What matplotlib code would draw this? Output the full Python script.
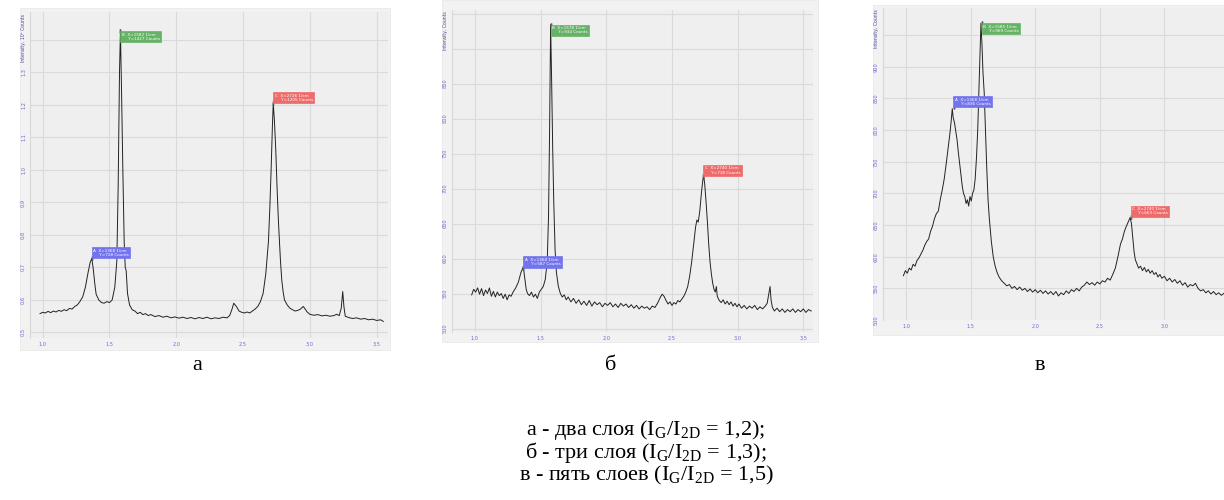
import matplotlib
matplotlib.use("Agg")
from matplotlib import pyplot as plt
from matplotlib.patches import Rectangle

# ---- data (x in 10^3 1/cm) ----
# panel a: intensity in 10^3 counts
xa = [0.98, 1.00, 1.02, 1.04, 1.06, 1.08, 1.10, 1.12, 1.14, 1.16, 1.18, 1.20, 1.22, 1.24,
      1.26, 1.28, 1.30, 1.32, 1.34, 1.355, 1.368, 1.38, 1.39, 1.40, 1.42, 1.44, 1.46, 1.48,
      1.50, 1.52, 1.54, 1.555, 1.565, 1.575, 1.582, 1.59, 1.60, 1.61, 1.618, 1.625, 1.635,
      1.65, 1.67, 1.69, 1.71, 1.73, 1.75, 1.77, 1.79, 1.81, 1.84, 1.87, 1.90, 1.93, 1.96,
      1.99, 2.02, 2.05, 2.08, 2.11, 2.14, 2.17, 2.20, 2.23, 2.26, 2.29, 2.32, 2.35, 2.38,
      2.40, 2.42, 2.43, 2.45, 2.47, 2.49, 2.51, 2.53, 2.55, 2.57, 2.59, 2.61, 2.63, 2.65,
      2.67, 2.69, 2.70, 2.71, 2.72, 2.726, 2.735, 2.745, 2.755, 2.765, 2.78, 2.79, 2.80,
      2.81, 2.83, 2.85, 2.87, 2.89, 2.91, 2.93, 2.95, 2.96, 2.98, 3.00, 3.03, 3.06, 3.09,
      3.12, 3.15, 3.18, 3.20, 3.22, 3.235, 3.246, 3.255, 3.265, 3.29, 3.32, 3.35, 3.38,
      3.41, 3.44, 3.47, 3.50, 3.53, 3.55]
ya = [0.558, 0.562, 0.560, 0.565, 0.561, 0.566, 0.563, 0.568, 0.565, 0.570, 0.567, 0.574,
      0.572, 0.580, 0.585, 0.596, 0.610, 0.640, 0.685, 0.715, 0.728, 0.690, 0.650, 0.618,
      0.600, 0.592, 0.590, 0.595, 0.592, 0.600, 0.640, 0.720, 0.950, 1.300, 1.427, 1.250,
      1.000, 0.780, 0.700, 0.690, 0.620, 0.585, 0.570, 0.566, 0.558, 0.562, 0.555, 0.558,
      0.552, 0.555, 0.549, 0.552, 0.547, 0.550, 0.545, 0.548, 0.544, 0.547, 0.543, 0.546,
      0.542, 0.546, 0.543, 0.547, 0.542, 0.545, 0.543, 0.547, 0.545, 0.552, 0.575, 0.590,
      0.580, 0.566, 0.562, 0.560, 0.563, 0.560, 0.566, 0.572, 0.580, 0.595, 0.620, 0.680,
      0.780, 0.880, 1.000, 1.140, 1.205, 1.150, 1.060, 0.940, 0.840, 0.720, 0.660, 0.625,
      0.600, 0.585, 0.575, 0.570, 0.566, 0.568, 0.572, 0.580, 0.575, 0.563, 0.556, 0.553,
      0.555, 0.551, 0.553, 0.550, 0.552, 0.556, 0.552, 0.575, 0.626, 0.580, 0.550, 0.546,
      0.543, 0.545, 0.541, 0.543, 0.539, 0.541, 0.537, 0.539, 0.534]

# panel b: intensity in counts
xb = [0.975, 0.99, 1.005, 1.02, 1.035, 1.05, 1.065, 1.08, 1.095, 1.11, 1.125, 1.14, 1.155,
      1.17, 1.185, 1.20, 1.215, 1.23, 1.245, 1.26, 1.275, 1.29, 1.31, 1.33, 1.35, 1.368,
      1.38, 1.39, 1.40, 1.415, 1.43, 1.445, 1.46, 1.475, 1.49, 1.505, 1.52, 1.535, 1.55,
      1.56, 1.568, 1.576, 1.584, 1.592, 1.60, 1.61, 1.62, 1.635, 1.65, 1.665, 1.68, 1.695,
      1.71, 1.73, 1.75, 1.77, 1.79, 1.81, 1.83, 1.85, 1.87, 1.89, 1.91, 1.93, 1.95, 1.97,
      1.99, 2.01, 2.03, 2.05, 2.07, 2.09, 2.11, 2.13, 2.15, 2.17, 2.19, 2.21, 2.23, 2.25,
      2.27, 2.29, 2.31, 2.33, 2.35, 2.37, 2.39, 2.41, 2.425, 2.44, 2.455, 2.47, 2.485,
      2.50, 2.515, 2.53, 2.545, 2.56, 2.575, 2.59, 2.605, 2.62, 2.635, 2.65, 2.665, 2.68,
      2.69, 2.70, 2.712, 2.725, 2.735, 2.742, 2.75, 2.76, 2.77, 2.78, 2.79, 2.80, 2.81,
      2.82, 2.83, 2.838, 2.845, 2.86, 2.875, 2.89, 2.905, 2.92, 2.935, 2.95, 2.965, 2.98,
      2.995, 3.01, 3.03, 3.05, 3.07, 3.09, 3.11, 3.13, 3.15, 3.17, 3.19, 3.21, 3.225, 3.24,
      3.247, 3.255, 3.265, 3.28, 3.30, 3.32, 3.34, 3.36, 3.38, 3.40, 3.42, 3.44, 3.46, 3.48,
      3.50, 3.52, 3.54, 3.56]
yb = [548, 556, 552, 558, 549, 557, 547, 555, 550, 558, 546, 553, 545, 552, 547, 550, 543,
      549, 541, 548, 546, 552, 558, 566, 580, 588, 570, 556, 550, 547, 552, 545, 549, 543,
      552, 556, 560, 570, 595, 660, 780, 934, 850, 755, 680, 612, 580, 560, 550, 545, 548,
      541, 545, 538, 543, 536, 541, 534, 539, 533, 540, 532, 538, 534, 537, 531, 536, 533,
      537, 531, 535, 530, 536, 532, 535, 530, 534, 529, 533, 528, 532, 529, 531, 527, 532,
      530, 536, 544, 549, 546, 540, 535, 538, 533, 537, 535, 540, 538, 542, 546, 552, 560,
      575, 595, 620, 645, 655, 652, 668, 695, 712, 718, 705, 680, 652, 620, 595, 578, 565,
      556, 552, 560, 546, 540, 537, 541, 535, 539, 534, 538, 532, 536, 531, 535, 529, 533,
      528, 532, 529, 533, 527, 531, 528, 532, 536, 552, 560, 540, 530, 525, 529, 524, 528,
      523, 527, 524, 528, 523, 527, 524, 528, 523, 527, 525]

# panel c: intensity in counts
xc = [0.98, 0.995, 1.01, 1.025, 1.04, 1.055, 1.07, 1.085, 1.10, 1.115, 1.13, 1.145, 1.16,
      1.175, 1.19, 1.205, 1.22, 1.235, 1.25, 1.265, 1.28, 1.295, 1.31, 1.325, 1.34, 1.35,
      1.358, 1.365, 1.375, 1.385, 1.395, 1.405, 1.415, 1.425, 1.435, 1.445, 1.455, 1.465,
      1.475, 1.485, 1.495, 1.505, 1.515, 1.525, 1.535, 1.545, 1.555, 1.565, 1.575, 1.58,
      1.588, 1.596, 1.605, 1.615, 1.625, 1.635, 1.645, 1.66, 1.675, 1.69, 1.705, 1.72, 1.74,
      1.76, 1.78, 1.80, 1.82, 1.84, 1.86, 1.88, 1.90, 1.92, 1.94, 1.96, 1.98, 2.00, 2.02,
      2.04, 2.06, 2.08, 2.10, 2.12, 2.14, 2.16, 2.18, 2.20, 2.22, 2.24, 2.26, 2.28, 2.30,
      2.32, 2.34, 2.36, 2.38, 2.40, 2.42, 2.44, 2.46, 2.48, 2.50, 2.52, 2.54, 2.56, 2.58,
      2.60, 2.62, 2.64, 2.66, 2.675, 2.69, 2.705, 2.72, 2.735, 2.745, 2.755, 2.765, 2.775,
      2.785, 2.80, 2.815, 2.83, 2.845, 2.86, 2.875, 2.89, 2.905, 2.92, 2.935, 2.95, 2.965,
      2.98, 3.00, 3.02, 3.04, 3.06, 3.08, 3.10, 3.12, 3.14, 3.16, 3.18, 3.20, 3.22, 3.24,
      3.26, 3.28, 3.30, 3.32, 3.34, 3.36, 3.38, 3.40, 3.42, 3.44, 3.46]
yc = [570, 578, 574, 582, 579, 588, 585, 594, 598, 604, 610, 618, 624, 628, 640, 648, 660,
      668, 672, 690, 705, 722, 745, 770, 795, 815, 834, 820, 812, 798, 785, 765, 748, 730,
      712, 700, 695, 684, 690, 680, 695, 688, 700, 705, 722, 755, 800, 870, 940, 969, 935,
      890, 860, 800, 740, 690, 660, 625, 600, 585, 575, 568, 562, 558, 554, 556, 550, 553,
      548, 552, 547, 550, 545, 549, 544, 548, 543, 547, 542, 546, 541, 545, 540, 545, 538,
      543, 540, 546, 542, 548, 545, 550, 546, 552, 555, 560, 556, 559, 555, 560, 557, 562,
      560, 566, 563, 572, 582, 600, 620, 628, 640, 648, 655, 662, 652, 630, 608, 595, 590,
      582, 585, 578, 583, 576, 580, 574, 578, 572, 575, 568, 572, 566, 569, 562, 566, 560,
      564, 558, 562, 555, 559, 552, 556, 554, 558, 550, 546, 548, 543, 546, 541, 545, 540,
      543, 539, 542]

ticks_x = [1.0, 1.5, 2.0, 2.5, 3.0, 3.5]
ticks_xc = [1.0, 1.5, 2.0, 2.5, 3.0]
ticks_ya = [0.5, 0.6, 0.7, 0.8, 0.9, 1.0, 1.1, 1.2, 1.3, 1.4]
ticks_yb = [500, 550, 600, 650, 700, 750, 800, 850, 900, 950]
ticks_yc = [500, 550, 600, 650, 700, 750, 800, 850, 900, 950]

# markers: (letter, x cm-1, y counts, colour)
marks_a = [("A", 1368, 728, "#7373ee"), ("B", 1582, 1427, "#66b266"), ("C", 2726, 1205, "#ee6b6b")]
marks_b = [("A", 1368, 587, "#7373ee"), ("B", 1578, 934, "#66b266"), ("C", 2740, 718, "#ee6b6b")]
marks_c = [("A", 1368, 836, "#7373ee"), ("B", 1585, 969, "#66b266"), ("C", 2740, 663, "#ee6b6b")]

W, H = 1224, 500
fig = plt.figure(figsize=(W / 100, H / 100), dpi=100)
fig.patch.set_facecolor("white")

TICK_COL = "#6a6ad0"


def px_rect(l, t, r, b):
    return [l / W, 1 - b / H, (r - l) / W, (b - t) / H]


def panel(box, area, x, y, xlim, ylim, xt, yt, ylabels, ytitle, marks, scale):
    # grey screenshot background
    l, t, r, b = box
    fig.patches.append(Rectangle((l / W, 1 - b / H), (r - l) / W, (b - t) / H,
                                 transform=fig.transFigure, facecolor="#f2f2f2",
                                 edgecolor="#e6e6e6", lw=0.5, zorder=-5))
    ax = fig.add_axes(px_rect(*area))
    ax.set_zorder(2)
    ax.set_facecolor("#efefef")
    ax.plot(x, y, color="#222222", lw=0.7)
    ax.set_xlim(*xlim)
    ax.set_ylim(*ylim)
    ax.set_xticks(xt)
    ax.set_xticklabels([f"{v:.1f}".replace(".", ",") for v in xt])
    ax.set_yticks(yt)
    ax.set_yticklabels(ylabels, rotation=90, va="center")
    ax.tick_params(length=0, labelsize=3.6, labelcolor=TICK_COL, pad=3)
    ax.grid(True, color="#dadada", lw=0.8)
    ax.set_axisbelow(True)
    for s in ax.spines.values():
        s.set_visible(False)
    ax.spines["left"].set_visible(True)
    ax.spines["left"].set_color("#d8d8d8")
    ax.text(-0.012, 0.995, ytitle, transform=ax.transAxes, rotation=90,
            ha="right", va="top", fontsize=3.3, color="#4a4a9a")
    for letter, mx, my, col in marks:
        px, py = mx / 1000, my / scale
        ax.plot([px, px], [py, py], marker="|", ms=3, color="#555555")
        va = "top" if letter == "B" else "bottom"
        dy = -1 if letter == "B" else 1
        ax.annotate(f"{letter}  X={mx} 1/cm\n     Y={my} Counts", (px, py),
                    xytext=(1, dy), textcoords="offset points", ha="left", va=va,
                    fontsize=3.0, color="white", linespacing=1.1,
                    bbox=dict(boxstyle="square,pad=0.35", fc=col, ec=col, lw=0.5))
    return ax


def fmt_comma(vals):
    return [f"{v:.1f}".replace(".", ",") for v in vals]


# top tick labels sit under the axis title, so they are left blank
labels_a = fmt_comma(ticks_ya)[:-1] + [""]
labels_b = [str(v) for v in ticks_yb][:-2] + ["", ""]
labels_c = [str(v) for v in ticks_yc][:-1] + [""]

panel((20, 8, 390, 350), (30, 12, 388, 338), xa, ya, (0.905, 3.585), (0.483, 1.486),
      ticks_x, ticks_ya, labels_a, "Intensity, 10³ Counts", marks_a, 1000)
panel((442, 0, 818, 342), (452, 10, 813, 332), xb, yb, (0.825, 3.574), (495, 955),
      ticks_x, ticks_yb, labels_b, "Intensity, Counts", marks_b, 1)
panel((873, 5, 1224, 335), (883, 8, 1224, 320), xc, yc, (0.822, 3.461), (513, 993),
      ticks_xc, ticks_yc, labels_c, "Intensity, Counts", marks_c, 1)

# captions
plt.rcParams["mathtext.fontset"] = "custom"
plt.rcParams["mathtext.rm"] = "Liberation Serif"
serif = "Liberation Serif"
for cx, letter in [(197, "а"), (611, "б"), (1040, "в")]:
    fig.text(cx / W, 1 - 366 / H, letter, ha="center", va="center", family=serif, fontsize=16)

lines = [r"а - два слоя (I$_\mathrm{G}$/I$_\mathrm{2D}$ = 1,2);",
         r"б - три слоя (I$_\mathrm{G}$/I$_\mathrm{2D}$ = 1,3);",
         r"в - пять слоев (I$_\mathrm{G}$/I$_\mathrm{2D}$ = 1,5)"]
for i, s in enumerate(lines):
    fig.text(646 / W, 1 - (430 + 22.5 * i) / H, s, ha="center", va="center",
             family=serif, fontsize=16)

fig.savefig("out.png", dpi=100, facecolor="white")
